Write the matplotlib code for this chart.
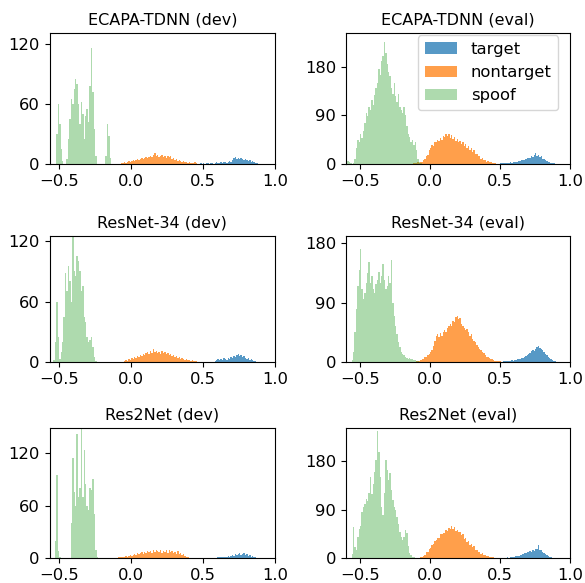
import numpy as np
import matplotlib
matplotlib.use("Agg")
import matplotlib.pyplot as plt

BIN_W = 0.01
SERIES = ["target", "nontarget", "spoof"]
TITLES = ["ECAPA-TDNN (dev)", "ECAPA-TDNN (eval)",
          "ResNet-34 (dev)", "ResNet-34 (eval)",
          "Res2Net (dev)", "Res2Net (eval)"]
XTICKS = [-0.5, 0.0, 0.5, 1.0]
YTICKS_DEV = [0, 60, 120]
YTICKS_EVAL = [0, 90, 180]

# ---- ECAPA-TDNN (dev): first bin left edge, then counts per 0.01 bin
ecapa_dev_spoof_start = -0.52
ecapa_dev_spoof = [30, 60, 40, 15, 3, 0, 0, 5, 25, 45, 65, 60, 75, 85, 80, 60, 40, 62,
                   50, 25, 48, 55, 42, 78, 116, 72, 35, 8, 0, 0, 0, 0, 0, 0, 8, 40, 28, 6]
ecapa_dev_nontarget_start = -0.07
ecapa_dev_nontarget = [1, 1, 2, 1, 2, 3, 2, 3, 4, 3, 4, 5, 4, 5, 6, 5, 6, 7, 6, 7, 8, 7,
                       9, 11, 8, 9, 7, 8, 9, 7, 8, 6, 8, 7, 8, 5, 6, 4, 5, 3, 4, 3, 2, 3,
                       2, 2, 1, 2, 1, 1, 1, 2, 1]
ecapa_dev_target_start = 0.48
ecapa_dev_target = [1, 0, 1, 0, 1, 1, 0, 1, 1, 0, 1, 2, 1, 1, 2, 1, 2, 2, 1, 2, 3, 2, 4,
                    6, 7, 5, 6, 5, 6, 5, 4, 5, 4, 3, 4, 2, 3, 2, 1, 1]

# ---- ECAPA-TDNN (eval)
ecapa_eval_spoof_start = -0.60
ecapa_eval_spoof = [3, 5, 3, 1, 0, 2, 10, 30, 45, 40, 55, 48, 62, 75, 95, 88, 105, 100,
                    118, 110, 128, 140, 150, 175, 165, 190, 200, 226, 205, 185, 170, 163,
                    140, 130, 150, 125, 115, 130, 105, 100, 95, 105, 90, 70, 55, 50, 40,
                    45, 35, 40, 25, 10, 4, 2]
ecapa_eval_nontarget_start = -0.12
ecapa_eval_nontarget = [1, 2, 1, 3, 2, 4, 3, 7, 9, 15, 17, 25, 29, 35, 34, 41, 40, 45,
                        42, 49, 45, 52, 50, 56, 51, 55, 48, 53, 47, 50, 43, 47, 40, 43,
                        37, 40, 34, 37, 30, 33, 26, 29, 23, 25, 19, 19, 14, 15, 10, 11,
                        7, 8, 4, 5, 3, 4, 2, 1, 1]
ecapa_eval_target_start = 0.50
ecapa_eval_target = [1, 1, 1, 2, 1, 2, 2, 3, 2, 3, 3, 4, 4, 5, 6, 7, 8, 8, 10, 11, 12,
                     11, 14, 13, 16, 20, 15, 17, 13, 14, 10, 9, 7, 5, 4, 3, 2, 1, 1]

# ---- ResNet-34 (dev)
resnet_dev_spoof_start = -0.54
resnet_dev_spoof = [2, 20, 60, 25, 3, 10, 20, 45, 88, 70, 95, 80, 60, 125, 90, 85, 105,
                    100, 90, 70, 75, 45, 40, 25, 20, 22, 25, 15, 5, 1]
resnet_dev_nontarget_start = -0.05
resnet_dev_nontarget = [1, 2, 1, 3, 2, 4, 3, 5, 4, 6, 5, 7, 6, 8, 7, 9, 10, 8, 11, 9, 13,
                        10, 11, 9, 10, 8, 11, 9, 10, 8, 9, 7, 8, 6, 7, 5, 6, 4, 5, 3, 4,
                        3, 2, 3, 2, 2, 1, 2, 1, 1, 1]
resnet_dev_target_start = 0.58
resnet_dev_target = [1, 2, 3, 2, 3, 2, 4, 3, 2, 4, 3, 5, 4, 6, 5, 7, 8, 6, 7, 5, 6, 4,
                     3, 4, 2, 3, 2, 1, 1]

# ---- ResNet-34 (eval)
resnet_eval_spoof_start = -0.56
resnet_eval_spoof = [3, 15, 45, 80, 115, 140, 172, 110, 95, 105, 120, 135, 152, 120, 130,
                     110, 105, 118, 125, 137, 120, 130, 148, 125, 110, 115, 130, 120, 155,
                     90, 70, 55, 42, 30, 22, 15, 12, 10, 8, 6, 5, 6, 4, 5, 3, 3, 2, 1]
resnet_eval_nontarget_start = -0.10
resnet_eval_nontarget = [1, 1, 2, 3, 4, 5, 7, 8, 10, 12, 15, 18, 25, 32, 40, 42, 38, 44,
                         40, 45, 48, 45, 52, 55, 58, 55, 62, 60, 68, 70, 65, 67, 58, 55,
                         52, 48, 50, 45, 40, 42, 35, 32, 30, 26, 22, 20, 18, 15, 13, 10,
                         8, 7, 6, 5, 4, 3, 2, 2, 1, 1, 1]
resnet_eval_target_start = 0.52
resnet_eval_target = [1, 1, 2, 1, 2, 2, 3, 2, 3, 3, 4, 4, 5, 6, 6, 8, 9, 10, 12, 14, 16,
                      18, 17, 20, 22, 25, 21, 20, 18, 15, 12, 10, 8, 6, 5, 3, 2, 1]

# ---- Res2Net (dev)
res2net_dev_spoof_start = -0.53
res2net_dev_spoof = [20, 95, 8, 2, 0, 0, 0, 0, 0, 0, 0, 40, 114, 75, 60, 142, 70, 80,
                     148, 70, 123, 85, 60, 55, 80, 78, 90, 50, 10, 2]
res2net_dev_nontarget_start = -0.09
res2net_dev_nontarget = [1, 1, 2, 1, 2, 3, 2, 3, 4, 3, 4, 5, 4, 6, 5, 6, 7, 5, 7, 6, 8,
                         7, 8, 6, 9, 7, 10, 8, 7, 9, 6, 8, 7, 9, 6, 10, 7, 8, 6, 7, 5, 8,
                         5, 6, 4, 5, 3, 2, 1]
res2net_dev_target_start = 0.60
res2net_dev_target = [1, 1, 2, 1, 2, 2, 1, 3, 2, 3, 4, 3, 5, 4, 5, 6, 4, 5, 6, 4, 5, 3,
                      4, 2, 3, 1, 1]

# ---- Res2Net (eval)
res2net_eval_spoof_start = -0.56
res2net_eval_spoof = [8, 58, 20, 15, 40, 55, 60, 85, 95, 100, 110, 105, 120, 150, 118,
                      138, 160, 181, 235, 197, 150, 95, 80, 120, 181, 163, 144, 157, 126,
                      107, 95, 89, 76, 64, 48, 40, 33, 40, 52, 46, 22, 9, 6, 3, 2, 1]
res2net_eval_nontarget_start = -0.08
res2net_eval_nontarget = [1, 2, 3, 5, 6, 11, 12, 17, 19, 25, 27, 32, 33, 38, 37, 45, 44,
                          47, 46, 53, 51, 56, 54, 60, 55, 58, 51, 52, 48, 49, 43, 44, 36,
                          38, 31, 32, 25, 27, 20, 22, 15, 16, 11, 12, 8, 9, 6, 6, 4, 5,
                          3, 3, 2, 2, 1, 1, 1, 1]
res2net_eval_target_start = 0.52
res2net_eval_target = [1, 1, 1, 2, 1, 2, 2, 3, 3, 4, 4, 5, 6, 7, 8, 9, 10, 11, 12, 13,
                       12, 15, 14, 17, 18, 24, 16, 15, 12, 10, 8, 6, 4, 3, 2, 1]

PANELS = [
    dict(spoof=(ecapa_dev_spoof_start, ecapa_dev_spoof),
         nontarget=(ecapa_dev_nontarget_start, ecapa_dev_nontarget),
         target=(ecapa_dev_target_start, ecapa_dev_target)),
    dict(spoof=(ecapa_eval_spoof_start, ecapa_eval_spoof),
         nontarget=(ecapa_eval_nontarget_start, ecapa_eval_nontarget),
         target=(ecapa_eval_target_start, ecapa_eval_target)),
    dict(spoof=(resnet_dev_spoof_start, resnet_dev_spoof),
         nontarget=(resnet_dev_nontarget_start, resnet_dev_nontarget),
         target=(resnet_dev_target_start, resnet_dev_target)),
    dict(spoof=(resnet_eval_spoof_start, resnet_eval_spoof),
         nontarget=(resnet_eval_nontarget_start, resnet_eval_nontarget),
         target=(resnet_eval_target_start, resnet_eval_target)),
    dict(spoof=(res2net_dev_spoof_start, res2net_dev_spoof),
         nontarget=(res2net_dev_nontarget_start, res2net_dev_nontarget),
         target=(res2net_dev_target_start, res2net_dev_target)),
    dict(spoof=(res2net_eval_spoof_start, res2net_eval_spoof),
         nontarget=(res2net_eval_nontarget_start, res2net_eval_nontarget),
         target=(res2net_eval_target_start, res2net_eval_target)),
]

COLORS = {"target": ("#1f77b4", 0.75), "nontarget": ("#ff7f0e", 0.75),
          "spoof": ("#2ca02c", 0.38)}

W, H = 585, 583
fig = plt.figure(figsize=(W / 100, H / 100), dpi=100)

# axes boxes in pixels: (left, right) and (top, bottom)
cols = [(49.5, 275.0), (346.0, 570.0)]
rows = [(33.3, 164.0), (236.0, 362.0), (428.3, 558.3)]
xlims = [(-0.567, 1.0), (-0.6, 1.0)]
ylims = [(131, 242), (125, 191), (148, 240)]

for i, panel in enumerate(PANELS):
    r, c = divmod(i, 2)
    l, rr = cols[c]
    t, b = rows[r]
    ax = fig.add_axes([l / W, 1 - b / H, (rr - l) / W, (b - t) / H])
    for name in SERIES:
        start, vals = panel[name]
        vals = np.asarray(vals, dtype=float)
        edges = np.round(start + BIN_W * np.arange(len(vals) + 1), 4)
        col, a = COLORS[name]
        ax.hist(edges[:-1] + BIN_W / 2, bins=edges, weights=vals, color=col,
                alpha=a, label=name, linewidth=0)
    ax.set_xlim(*xlims[c])
    ax.set_ylim(0, ylims[r][c])
    ax.set_xticks(XTICKS)
    ax.set_yticks(YTICKS_DEV if c == 0 else YTICKS_EVAL)
    ax.tick_params(labelsize=11.8)
    ax.set_title(TITLES[i], fontsize=11.5)
    if i == 1:
        ax.legend(loc="upper right", fontsize=11.8, borderaxespad=0,
                  handlelength=2.0,
                  bbox_to_anchor=((558 - l) / (rr - l), 1 - 2.0 / (b - t)))

fig.savefig("out.png", dpi=100)
